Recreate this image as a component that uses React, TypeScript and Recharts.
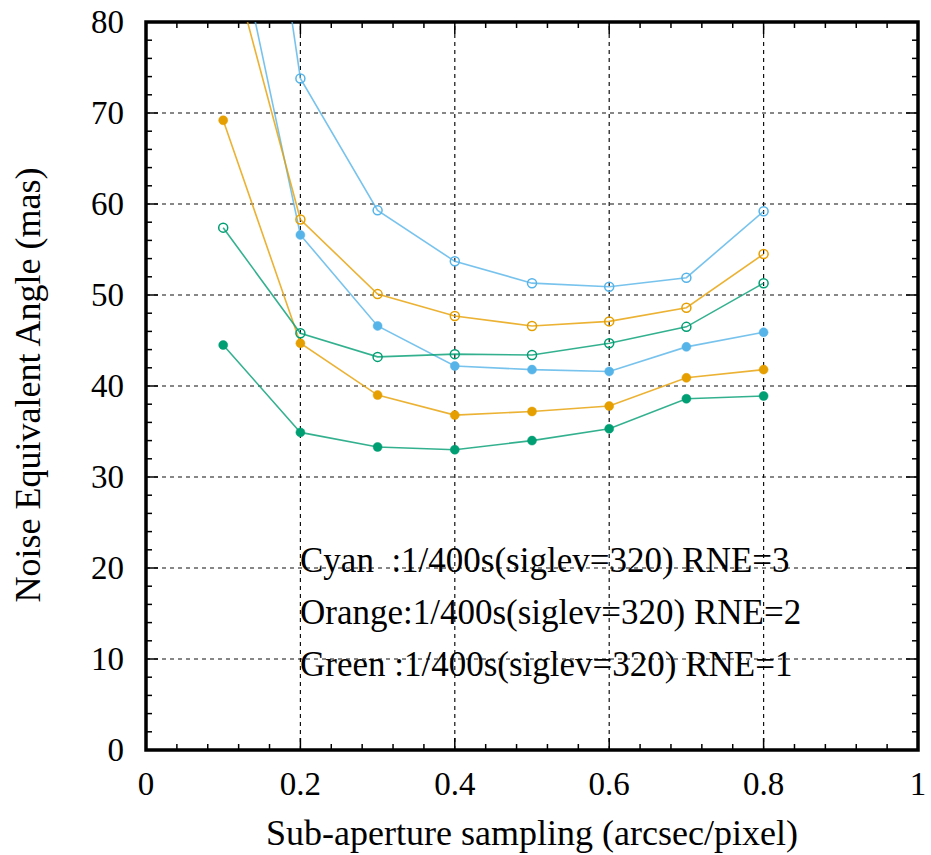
import React from "react"
import { LineChart, Line, XAxis, YAxis, ReferenceLine, ReferenceArea } from "recharts"

// sampling (arcsec/pixel)
const sampling = [0.1, 0.2, 0.3, 0.4, 0.5, 0.6, 0.7, 0.8]

// noise equivalent angle (mas)
const cyanOpen = [131.5, 73.8, 59.3, 53.7, 51.3, 50.9, 51.9, 59.2]
const cyanFilled = [96.7, 56.6, 46.6, 42.2, 41.8, 41.6, 44.3, 45.9]
const orangeOpen = [90.0, 58.3, 50.1, 47.7, 46.6, 47.1, 48.6, 54.5]
const orangeFilled = [69.2, 44.7, 39.0, 36.8, 37.2, 37.8, 40.9, 41.8]
const greenOpen = [57.4, 45.8, 43.2, 43.5, 43.4, 44.7, 46.5, 51.3]
const greenFilled = [44.5, 34.9, 33.3, 33.0, 34.0, 35.3, 38.6, 38.9]

const xMajor = [0, 0.2, 0.4, 0.6, 0.8, 1]
const xLabels = ["0", "0.2", "0.4", "0.6", "0.8", "1"]
const yMajor = [0, 10, 20, 30, 40, 50, 60, 70, 80]
const yLabels = ["0", "10", "20", "30", "40", "50", "60", "70", "80"]

const annotations = [
  "Cyan  :1/400s(siglev=320) RNE=3",
  "Orange:1/400s(siglev=320) RNE=2",
  "Green :1/400s(siglev=320) RNE=1",
]

const CYAN = "#56B4E9"
const ORANGE = "#E69F00"
const GREEN = "#009E73"
const FONT = "'Liberation Serif', 'Times New Roman', serif"

// minor ticks: 5 subdivisions between major ticks
const withMinor = (major: number[], sub: number) => {
  const out: number[] = []
  for (let i = 0; i < major.length - 1; i++) {
    const step = (major[i + 1] - major[i]) / sub
    for (let k = 0; k < sub; k++) out.push(Math.round((major[i] + k * step) * 1e6) / 1e6)
  }
  out.push(major[major.length - 1])
  return out
}
const xTicks = withMinor(xMajor, 5)
const yTicks = withMinor(yMajor, 5)

const data = sampling.map((x, i) => ({
  x,
  cyanOpen: cyanOpen[i],
  cyanFilled: cyanFilled[i],
  orangeOpen: orangeOpen[i],
  orangeFilled: orangeFilled[i],
  greenOpen: greenOpen[i],
  greenFilled: greenFilled[i],
}))

const labelOf = (v: number, major: number[], labels: string[]) => {
  const i = major.findIndex((m) => Math.abs(m - v) < 1e-6)
  return i >= 0 ? labels[i] : null
}

const MAJOR_LEN = 12
const MINOR_LEN = 6

function BottomTick(props: any) {
  const { x, y, payload } = props
  const lab = labelOf(payload.value, xMajor, xLabels)
  const len = lab !== null ? MAJOR_LEN : MINOR_LEN
  return (
    <g>
      <line x1={x} x2={x} y1={y} y2={y - len} stroke="#000" strokeWidth={1.5} />
      {lab !== null && (
        <text x={x} y={y + 45} textAnchor="middle" fontSize={33} fontFamily={FONT} fill="#000">
          {lab}
        </text>
      )}
    </g>
  )
}

function TopTick(props: any) {
  const { x, y, payload } = props
  const lab = labelOf(payload.value, xMajor, xLabels)
  const len = lab !== null ? MAJOR_LEN : MINOR_LEN
  return <line x1={x} x2={x} y1={y} y2={y + len} stroke="#000" strokeWidth={1.5} />
}

function LeftTick(props: any) {
  const { x, y, payload } = props
  const lab = labelOf(payload.value, yMajor, yLabels)
  const len = lab !== null ? MAJOR_LEN : MINOR_LEN
  return (
    <g>
      <line x1={x} x2={x + len} y1={y} y2={y} stroke="#000" strokeWidth={1.5} />
      {lab !== null && (
        <text x={x - 22} y={y + 11} textAnchor="end" fontSize={33} fontFamily={FONT} fill="#000">
          {lab}
        </text>
      )}
    </g>
  )
}

function RightTick(props: any) {
  const { x, y, payload } = props
  const lab = labelOf(payload.value, yMajor, yLabels)
  const len = lab !== null ? MAJOR_LEN : MINOR_LEN
  return <line x1={x} x2={x - len} y1={y} y2={y} stroke="#000" strokeWidth={1.5} />
}

const grid = { stroke: "#111", strokeWidth: 1.2, strokeDasharray: "4 4" }

const openDot = (c: string) => ({ r: 4.5, fill: "#fff", fillOpacity: 0, stroke: c, strokeWidth: 1.5, strokeOpacity: 1 })
const filledDot = (c: string) => ({ r: 4.5, fill: c, fillOpacity: 1, stroke: c, strokeWidth: 0.5, strokeOpacity: 1 })

export default function App() {
  return (
    <div style={{ position: "absolute", left: 0, top: 0, width: 931, height: 855, background: "#fff" }}>
      <LineChart width={931} height={855} data={data} margin={{ top: 21, right: 12, left: 0, bottom: 0 }}>
        <XAxis
          xAxisId="b"
          dataKey="x"
          type="number"
          domain={[0, 1]}
          ticks={xTicks}
          interval={0}
          height={105}
          tickSize={0}
          tickMargin={0}
          tickLine={false}
          axisLine={false}
          tick={BottomTick}
          allowDataOverflow
        />
        <XAxis
          xAxisId="t"
          orientation="top"
          dataKey="x"
          type="number"
          domain={[0, 1]}
          ticks={xTicks}
          interval={0}
          height={1}
          tickSize={0}
          tickMargin={0}
          tickLine={false}
          axisLine={false}
          tick={TopTick}
          allowDataOverflow
        />
        <YAxis
          yAxisId="l"
          type="number"
          domain={[0, 80]}
          ticks={yTicks}
          interval={0}
          width={146}
          tickSize={0}
          tickMargin={0}
          tickLine={false}
          axisLine={false}
          tick={LeftTick}
          allowDataOverflow
        />
        <YAxis
          yAxisId="r"
          orientation="right"
          type="number"
          domain={[0, 80]}
          ticks={yTicks}
          interval={0}
          width={1}
          tickSize={0}
          tickMargin={0}
          tickLine={false}
          axisLine={false}
          tick={RightTick}
          allowDataOverflow
        />
        {xMajor.slice(1, -1).map((v) => (
          <ReferenceLine key={"gx" + v} x={v} xAxisId="b" yAxisId="l" {...grid} />
        ))}
        {yMajor.slice(1, -1).map((v) => (
          <ReferenceLine key={"gy" + v} y={v} xAxisId="b" yAxisId="l" {...grid} />
        ))}
        <ReferenceArea
          xAxisId="b"
          yAxisId="l"
          x1={0}
          x2={1}
          y1={0}
          y2={80}
          fill="none"
          fillOpacity={0}
          stroke="#000"
          strokeWidth={3.5}
          ifOverflow="visible"
        />
        <Line xAxisId="b" yAxisId="l" dataKey="cyanOpen" stroke={CYAN} strokeWidth={1.6} strokeOpacity={0.8} dot={openDot(CYAN)} activeDot={false} isAnimationActive={false} />
        <Line xAxisId="b" yAxisId="l" dataKey="cyanFilled" stroke={CYAN} strokeWidth={1.6} strokeOpacity={0.8} dot={filledDot(CYAN)} activeDot={false} isAnimationActive={false} />
        <Line xAxisId="b" yAxisId="l" dataKey="orangeOpen" stroke={ORANGE} strokeWidth={1.6} strokeOpacity={0.8} dot={openDot(ORANGE)} activeDot={false} isAnimationActive={false} />
        <Line xAxisId="b" yAxisId="l" dataKey="orangeFilled" stroke={ORANGE} strokeWidth={1.6} strokeOpacity={0.8} dot={filledDot(ORANGE)} activeDot={false} isAnimationActive={false} />
        <Line xAxisId="b" yAxisId="l" dataKey="greenOpen" stroke={GREEN} strokeWidth={1.6} strokeOpacity={0.8} dot={openDot(GREEN)} activeDot={false} isAnimationActive={false} />
        <Line xAxisId="b" yAxisId="l" dataKey="greenFilled" stroke={GREEN} strokeWidth={1.6} strokeOpacity={0.8} dot={filledDot(GREEN)} activeDot={false} isAnimationActive={false} />
      </LineChart>
      <svg width={931} height={855} style={{ position: "absolute", left: 0, top: 0, pointerEvents: "none" }}>
        {annotations.map((t, i) => (
          <text key={t} x={300} y={572 + i * 52} fontSize={35} fontFamily={FONT} fill="#000" style={{ whiteSpace: "pre" }}>
            {t}
          </text>
        ))}
        <text x={532} y={845} textAnchor="middle" fontSize={36} fontFamily={FONT} fill="#000">
          Sub-aperture sampling (arcsec/pixel)
        </text>
        <text x={40} y={385} textAnchor="middle" fontSize={36} fontFamily={FONT} fill="#000" transform="rotate(-90 40 385)">
          Noise Equivalent Angle (mas)
        </text>
      </svg>
    </div>
  )
}
